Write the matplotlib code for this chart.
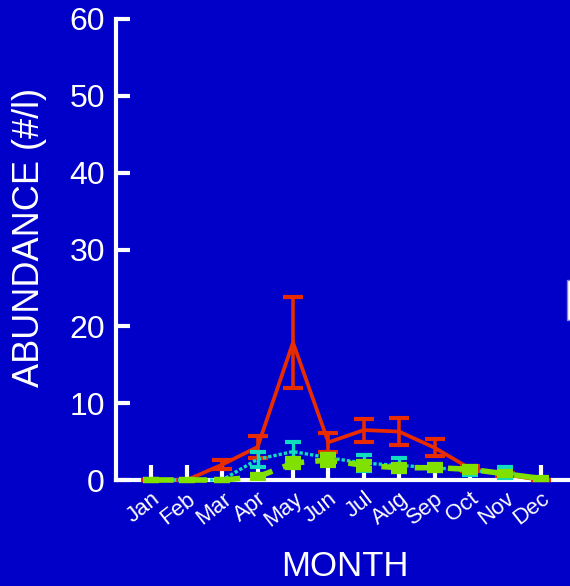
import matplotlib
matplotlib.use("Agg")
import matplotlib.pyplot as plt
import matplotlib.transforms as mtransforms
from matplotlib.patches import Rectangle

months = ["Jan", "Feb", "Mar", "Apr", "May", "Jun", "Jul", "Aug", "Sep", "Oct", "Nov", "Dec"]
x = list(range(1, 13))

red_vals = [0.0, 0.0, 2.0, 4.3, 17.9, 4.9, 6.5, 6.3, 4.2, 1.5, 0.7, 0.0]
red_err = [0.0, 0.0, 0.6, 1.4, 5.9, 1.2, 1.5, 1.8, 1.1, 0.3, 0.2, 0.0]

cyan_vals = [0.0, 0.0, 0.0, 2.7, 3.7, 2.9, 2.2, 1.9, 1.6, 1.2, 1.0, 0.1]
cyan_err = [0.0, 0.0, 0.0, 1.0, 1.3, 0.5, 1.0, 0.9, 0.4, 0.5, 0.7, 0.0]

green_vals = [0.0, 0.0, 0.0, 0.4, 2.2, 2.6, 1.9, 1.6, 1.6, 1.4, 0.8, 0.2]
green_err = [0.0, 0.0, 0.0, 0.2, 0.5, 0.6, 0.5, 0.4, 0.3, 0.3, 0.2, 0.1]

bg = "#0000C8"
red = "#E82C00"
cyan = "#10DCC0"
green = "#80E000"

plt.rcParams['font.family'] = ['Liberation Sans', 'DejaVu Sans']

fig = plt.figure(figsize=(5.70, 5.86), dpi=100, facecolor=bg)
ax = fig.add_axes([116/570, 106/586, 14*35.4/570, 461/586])
ax.set_facecolor(bg)

ax.errorbar(x, red_vals, yerr=red_err, color=red, lw=2.7, capsize=7, capthick=3,
            elinewidth=2.6, zorder=3, clip_on=False)
ax.errorbar(x, cyan_vals, yerr=cyan_err, color=cyan, lw=2.4, ls=(0, (1, 0.6)),
            capsize=6, capthick=3, elinewidth=2.4, zorder=4, clip_on=False)
ax.errorbar(x, green_vals, yerr=green_err, color=green, lw=4, ls=(0, (4, 2)),
            capsize=6, capthick=4.5, elinewidth=3, zorder=5, clip_on=False)

ax.set_xlim(0, 14)
ax.set_ylim(0, 60)
ax.set_yticks([0, 10, 20, 30, 40, 50, 60])
ax.set_xticks(x)
ax.set_xticklabels(months, rotation=38, ha='right', va='top', rotation_mode='anchor')
offset = mtransforms.ScaledTranslation(11/100, -2/100, fig.dpi_scale_trans)
for lab in ax.get_xticklabels():
    lab.set_transform(lab.get_transform() + offset)

for s in ['top', 'right']:
    ax.spines[s].set_visible(False)
for s in ['left', 'bottom']:
    ax.spines[s].set_color('white')
    ax.spines[s].set_linewidth(3)

ax.tick_params(axis='y', direction='in', length=10, width=3, colors='white',
               labelsize=23, pad=8)
ax.tick_params(axis='x', direction='in', length=11, width=3, colors='white',
               labelsize=16, pad=6)

ax.set_xlabel("MONTH", color='white', fontsize=25)
ax.xaxis.set_label_coords((345-116)/(14*35.4), (480-567)/461)
ax.xaxis.label.set_va('center')
ax.set_ylabel("ABUNDANCE (#/l)", color='white', fontsize=26)
ax.yaxis.set_label_coords((30-116)/(14*35.4), (480-237)/461)
ax.yaxis.label.set_va('center')

fig.patches.append(Rectangle((567/570, (586-320)/586), 0.05, 40/586,
                             transform=fig.transFigure, facecolor='white',
                             edgecolor='#8080E0', lw=1))

fig.savefig("out.png", dpi=100, facecolor=bg)
